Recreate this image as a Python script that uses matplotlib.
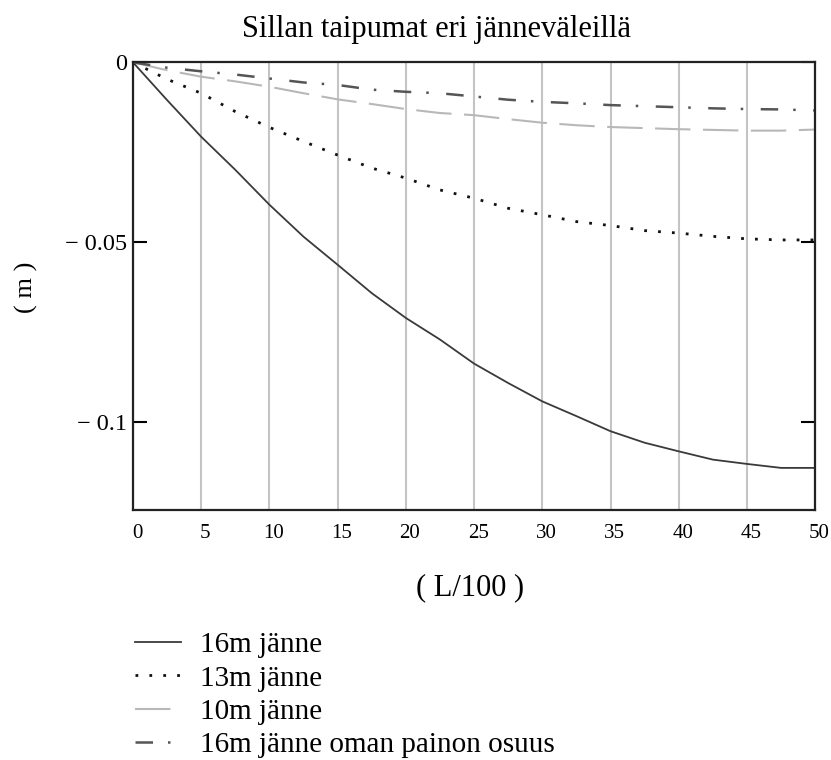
import matplotlib
matplotlib.use("Agg")
import matplotlib.pyplot as plt
import matplotlib.transforms as mtransforms

plt.rcParams["font.family"] = ["Liberation Serif", "DejaVu Serif"]

# Taipuma (m) sillan pituuden suhteen (L/100)
x_pos = [0, 2.5, 5, 7.5, 10, 12.5, 15, 17.5, 20, 22.5, 25,
         27.5, 30, 32.5, 35, 37.5, 40, 42.5, 45, 47.5, 50]
taipuma_16m = [0, -0.0105, -0.0207, -0.0299, -0.0396, -0.0485, -0.0563,
               -0.0642, -0.0711, -0.0771, -0.0838, -0.0892, -0.0943,
               -0.0984, -0.1026, -0.1058, -0.1082, -0.1105, -0.1117,
               -0.1128, -0.1128]
taipuma_13m = [0, -0.0047, -0.0086, -0.0137, -0.0181, -0.0220, -0.0258,
               -0.0294, -0.0322, -0.0355, -0.0378, -0.0406, -0.0424,
               -0.0443, -0.0454, -0.0468, -0.0475, -0.0484, -0.0491,
               -0.0494, -0.0494]
taipuma_10m = [0, -0.0022, -0.0040, -0.0053, -0.0068, -0.0086, -0.0103,
               -0.0116, -0.0130, -0.0141, -0.0147, -0.0158, -0.0168,
               -0.0175, -0.0180, -0.0183, -0.0186, -0.0188, -0.0190,
               -0.0190, -0.0187]
taipuma_16m_oma = [0, -0.0015, -0.0025, -0.0034, -0.0045, -0.0056, -0.0063,
                   -0.0076, -0.0082, -0.0086, -0.0095, -0.0104, -0.0110,
                   -0.0114, -0.0119, -0.0122, -0.0125, -0.0128, -0.0130,
                   -0.0131, -0.0134]

nimet = ["16m jänne", "13m jänne", "10m jänne", "16m jänne oman painon osuus"]

fig = plt.figure(figsize=(8.31, 7.6), dpi=100)
ax = fig.add_axes([0.160, 0.329, 0.821, 0.589])

l1, = ax.plot(x_pos, taipuma_16m, color="#3a3a3a", lw=1.3, ls="-")
l2, = ax.plot(x_pos, taipuma_13m, color="#111111", lw=2.0, ls=(0, (1, 4)))
l3, = ax.plot(x_pos, taipuma_10m, color="#b8b8b8", lw=1.5, ls=(0, (17, 6)))
l4, = ax.plot(x_pos, taipuma_16m_oma, color="#555555", lw=1.8,
              ls=(0, (7, 6, 1, 7)))

ax.set_xlim(0, 50)
ax.set_ylim(-0.1245, 0)

ax.set_xticks(range(0, 51, 5))
ax.set_yticks([0, -0.05, -0.1])
ax.set_yticklabels(["0", "\u2212 0.05", "\u2212 0.1"])
ax.tick_params(axis="x", length=0, pad=10, labelsize=15)
ax.tick_params(axis="y", direction="in", length=10, width=1.5, pad=4,
               labelsize=17.5, right=True)
# siirretään x-akselin numerot hieman oikealle
siirto = mtransforms.ScaledTranslation(0.04, 0, fig.dpi_scale_trans)
for lbl in ax.get_xticklabels():
    lbl.set_transform(lbl.get_transform() + siirto)

ax.grid(axis="x", color="#c4c4c4", lw=1.5)
ax.grid(axis="y", visible=False)
for s in ax.spines.values():
    s.set_linewidth(1.6)
    s.set_color("#222222")

fig.text(437 / 831, 1 - 30 / 760, "Sillan taipumat eri jänneväleillä",
         ha="center", va="center", fontsize=22)
fig.text(470 / 831, 1 - 588 / 760, "( L/100 )", ha="center", va="center",
         fontsize=22)
fig.text(26 / 831, 1 - 287 / 760, "( m )", ha="center", va="center",
         rotation=90, fontsize=19)

fig.legend([l1, l2, l3, l4], nimet, loc="upper left",
           bbox_to_anchor=(123 / 831, 1 - 620 / 760), frameon=False,
           fontsize=21, handlelength=1.6, handletextpad=0.65,
           labelspacing=0.24, borderaxespad=0)

plt.savefig("out.png", dpi=100)
plt.close()
